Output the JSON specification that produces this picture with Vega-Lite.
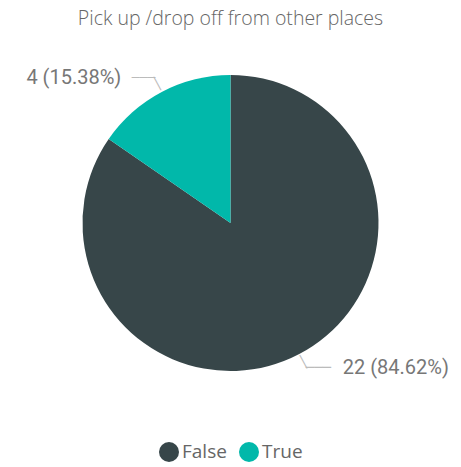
{
  "$schema": "https://vega.github.io/schema/vega-lite/v6.json",
  "width": 461,
  "height": 467,
  "autosize": {"type": "fit", "contains": "padding"},
  "padding": {"top": 8, "bottom": 5, "left": 0, "right": 0},
  "background": "white",
  "title": {
    "text": "Pick up /drop off from other places",
    "font": "Open Sans",
    "fontWeight": 300,
    "fontSize": 19.5,
    "color": "#666666",
    "anchor": "middle",
    "offset": 10
  },
  "config": {
    "view": {"stroke": null},
    "legend": {"layout": {"bottom": {"anchor": "middle"}}}
  },
  "data": {
    "values": [
      {"answer": "False", "count": 22, "label": "22 (84.62%)"},
      {"answer": "True", "count": 4, "label": "4 (15.38%)"}
    ]
  },
  "encoding": {
    "theta": {"field": "count", "type": "quantitative", "stack": true},
    "order": {"field": "answer", "type": "nominal", "sort": "ascending"}
  },
  "layer": [
    {
      "mark": {"type": "arc", "outerRadius": 148},
      "encoding": {
        "color": {
          "field": "answer",
          "type": "nominal",
          "scale": {"domain": ["False", "True"], "range": ["#374649", "#01B8AA"]},
          "legend": {
            "orient": "bottom",
            "direction": "horizontal",
            "title": null,
            "symbolType": "circle",
            "symbolSize": 400,
            "symbolStrokeWidth": 0,
            "labelFont": "Open Sans",
            "labelFontSize": 19,
            "labelColor": "#666666",
            "labelOffset": 3,
            "columnPadding": 12,
            "offset": 35
          }
        }
      }
    },
    {
      "mark": {"type": "text", "radius": 157, "text": "│", "angle": -28, "font": "DejaVu Sans", "fontSize": 13, "color": "#bbbbbb", "baseline": "middle", "align": "center"}
    },
    {
      "mark": {"type": "text", "radius": 164, "font": "DejaVu Sans", "fontSize": 13, "color": "#bbbbbb", "baseline": "middle", "align": "right", "dx": 1},
      "encoding": {"text": {"condition": {"test": "datum.answer == 'True'", "value": "───"}, "value": ""}}
    },
    {
      "mark": {"type": "text", "radius": 164, "font": "DejaVu Sans", "fontSize": 14, "color": "#bbbbbb", "baseline": "middle", "align": "left", "dx": -1},
      "encoding": {"text": {"condition": {"test": "datum.answer == 'False'", "value": "───"}, "value": ""}}
    },
    {
      "mark": {"type": "text", "radius": 164, "font": "Roboto", "fontSize": 20, "color": "#777777", "baseline": "middle", "align": "right", "dx": -33},
      "encoding": {"text": {"condition": {"test": "datum.answer == 'True'", "field": "label"}, "value": ""}}
    },
    {
      "mark": {"type": "text", "radius": 164, "font": "Roboto", "fontSize": 20, "color": "#777777", "baseline": "middle", "align": "left", "dx": 36},
      "encoding": {"text": {"condition": {"test": "datum.answer == 'False'", "field": "label"}, "value": ""}}
    }
  ]
}
